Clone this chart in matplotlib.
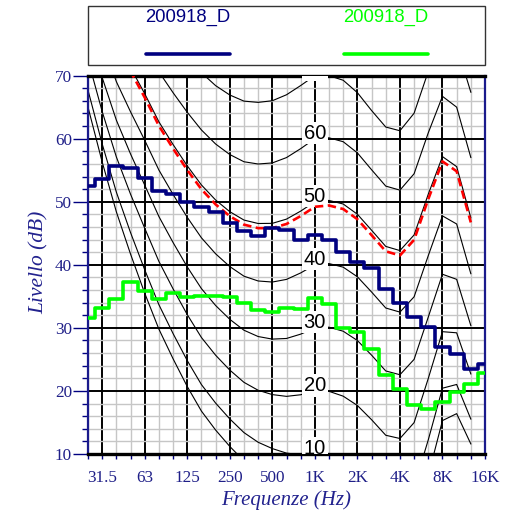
import numpy as np
import matplotlib
matplotlib.use("Agg")
import matplotlib.pyplot as plt
from matplotlib.lines import Line2D
from matplotlib.patches import Rectangle

# Third-octave bands on the x axis (25 Hz .. 16 kHz)
bands = ["25", "31.5", "40", "50", "63", "80", "100", "125", "160", "200",
         "250", "315", "400", "500", "630", "800", "1K", "1.25K", "1.6K", "2K",
         "2.5K", "3.15K", "4K", "5K", "6.3K", "8K", "10K", "12.5K", "16K"]
octave_labels = ["31.5", "63", "125", "250", "500", "1K", "2K", "4K", "8K", "16K"]

# Measured band levels (dB)
level_dark = [52.5, 53.6, 55.6, 55.3, 53.8, 51.7, 51.2, 50.0, 49.2, 48.3,
              46.7, 45.3, 44.6, 45.8, 45.5, 44.0, 44.8, 44.0, 42.0, 40.5,
              39.5, 36.1, 34.0, 31.8, 30.1, 27.0, 25.8, 23.5, 24.2]
level_green = [31.6, 33.2, 34.6, 37.2, 35.9, 34.5, 35.5, 34.9, 35.0, 35.0,
               34.9, 34.0, 32.9, 32.5, 33.2, 33.0, 34.7, 33.8, 30.0, 29.4,
               26.6, 22.6, 20.3, 17.8, 17.1, 18.2, 19.8, 21.1, 22.9]
series_names = ["200918_D", "200918_D"]

# ISO 226:1987 equal-loudness parameters, 20 Hz .. 12.5 kHz
iso_freqs = ["20"] + bands[:-1]
iso_af = [2.347, 2.190, 2.050, 1.879, 1.724, 1.579, 1.512, 1.466, 1.426, 1.394,
          1.372, 1.344, 1.304, 1.256, 1.203, 1.135, 1.062, 1.000, 0.967, 0.943,
          0.932, 0.933, 0.937, 0.952, 0.974, 1.027, 1.135, 1.266, 1.501]
iso_bf = [0.00561, 0.00527, 0.00481, 0.00404, 0.00383, 0.00286, 0.00259, 0.00257,
          0.00256, 0.00255, 0.00254, 0.00248, 0.00229, 0.00201, 0.00162, 0.00111,
          0.00052, 0.0, -0.00039, -0.00067, -0.00092, -0.00105, -0.00104,
          -0.00088, -0.00055, 0.0, 0.00089, 0.00211, 0.00488]
iso_tf = [74.3, 65.0, 56.3, 48.4, 41.7, 35.5, 29.8, 25.1, 20.7, 16.8, 13.8,
          11.2, 8.9, 7.2, 6.0, 5.0, 4.4, 4.2, 3.7, 2.6, 1.0, -1.2, -3.6, -3.9,
          -1.1, 6.6, 15.3, 16.4, 11.6]
phon_levels = [4.2, 10, 20, 30, 40, 50, 60, 70, 80, 90]
phon_labels = [10, 20, 30, 40, 50, 60, 70]
loudness_level = 49.2   # loudness level of the dark series (phon)

NAVY = "#000080"
TICK_NAVY = "#1f1f88"
GREEN = "#00ff00"


def contour(ln):
    af = np.array(iso_af)
    bf = np.array(iso_bf)
    tf = np.array(iso_tf)
    m = ln - 4.2
    return tf + m / (af - bf * m)


W, H = 507, 517
fig = plt.figure(figsize=(W / 100, H / 100), dpi=100)
ax = fig.add_axes([88 / W, 63 / H, 397 / W, 378.4 / H])

x_band = np.arange(len(bands))
x_iso = np.arange(len(iso_freqs)) - 1

ax.set_xlim(0, len(bands) - 1)
ax.set_ylim(10, 70)

# ticks and grid
oct_pos = [bands.index(b) for b in octave_labels]
ax.set_xticks(oct_pos)
ax.set_xticklabels(octave_labels)
ax.set_xticks(x_band, minor=True)
ax.set_yticks(np.arange(10, 71, 10))
ax.set_yticks(np.arange(10, 71, 2), minor=True)

ax.set_axisbelow(True)
ax.grid(which="minor", color="#c6c6c6", lw=1.0)
ax.grid(which="major", color="black", lw=1.4)

serif = "Liberation Serif"
ax.tick_params(axis="y", which="major", length=10.8, width=1.0, color=NAVY,
               pad=0.8, labelsize=12.3, labelcolor=TICK_NAVY)
ax.tick_params(axis="y", which="minor", length=4.5, width=1.0, color=NAVY)
ax.tick_params(axis="x", which="both", length=3.6, width=1.0, color=NAVY)
ax.tick_params(axis="x", which="major", pad=8, labelsize=12.3,
               labelcolor=TICK_NAVY)
for lab in ax.get_xticklabels() + ax.get_yticklabels():
    lab.set_fontfamily(serif)

for side in ("top", "bottom"):
    ax.spines[side].set_color("black")
    ax.spines[side].set_linewidth(2.4)
for side in ("left", "right"):
    ax.spines[side].set_color("#1a1a8c")
    ax.spines[side].set_linewidth(1.6)

# equal-loudness contours
for ln in phon_levels:
    ax.plot(x_iso, contour(ln), color="black", lw=0.8, zorder=2)

for ln in phon_labels:
    ax.text(bands.index("1K"), ln, str(ln), ha="center", va="baseline",
            fontsize=14.5, family="Liberation Sans", color="black", zorder=3,
            clip_on=True,
            bbox=dict(boxstyle="square,pad=0.08", fc="white", ec="none"))

red, = ax.plot(x_iso, contour(loudness_level), color="#ff0000", lw=1.9,
               zorder=4)
red.set_dashes([3.2, 1.7])

ax.step(x_band, level_dark, where="mid", color=NAVY, lw=2.6, zorder=5)
ax.step(x_band, level_green, where="mid", color=GREEN, lw=2.6, zorder=5)

# axis titles
fig.text(39 / W, 1 - 262 / H, "Livello (dB)", rotation=90, ha="center",
         va="center", fontsize=15.5, family=serif, style="italic",
         color="#22228e")
fig.text(286 / W, 1 - 500 / H, "Frequenze (Hz)", ha="center", va="center",
         fontsize=15, family=serif, style="italic", color="#22228e")

# legend box
fig.add_artist(Rectangle((88 / W, 1 - 65 / H), 397 / W, 59 / H,
                         transform=fig.transFigure, fill=False,
                         edgecolor="#333333", lw=1.0))
for cx, col, name in zip([187.5, 386], [NAVY, GREEN], series_names):
    fig.text(cx / W, 1 - 17 / H, name, ha="center", va="center",
             fontsize=13.3, family="Liberation Sans", color=col)
    fig.add_artist(Line2D([(cx - 42) / W, (cx + 42) / W],
                          [1 - 54.3 / H, 1 - 54.3 / H],
                          transform=fig.transFigure, color=col, lw=2.6,
                          solid_capstyle="round"))

fig.savefig("out.png", dpi=100)
